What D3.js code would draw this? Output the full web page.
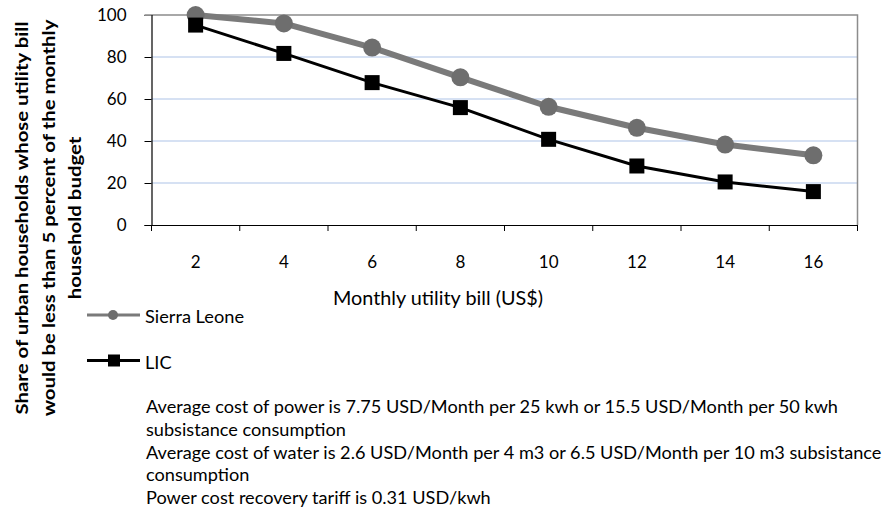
<!DOCTYPE html>
<html>
<head>
<meta charset="utf-8">
<script src="https://cdn.jsdelivr.net/npm/d3@7"></script>
<style>
  html, body { margin: 0; padding: 0; background: #fff; }
  svg { display: block; font-family: Lato, "Open Sans", sans-serif; }
</style>
</head>
<body>
<svg id="chart" width="887" height="510"></svg>
<script>
// Monthly utility bill (US$) categories
const bills = ["2", "4", "6", "8", "10", "12", "14", "16"];
// Share of urban households (%) for whom the bill stays under 5% of budget
const sierraLeone = [100, 96, 84.5, 70.3, 56.3, 46.3, 38.3, 33.2];
const lic = [95.2, 81.7, 67.8, 55.9, 40.8, 28.1, 20.5, 15.9];
const yTicks = [0, 20, 40, 60, 80, 100];
const seriesNames = ["Sierra Leone", "LIC"];
const yTitleLines = [
  "Share of urban households whose utility bill",
  "would be less than 5 percent of the monthly",
  "household budget"
];
const xTitle = "Monthly utility bill (US$)";
const notes = [
  "Average cost of power is 7.75 USD/Month per 25 kwh or 15.5 USD/Month per 50 kwh",
  "subsistance consumption",
  "Average cost of water is 2.6 USD/Month per 4 m3 or 6.5 USD/Month per 10 m3 subsistance",
  "consumption",
  "Power cost recovery tariff is 0.31 USD/kwh"
];

const svg = d3.select("#chart");
const plot = { left: 151.5, right: 857.5, top: 15, bottom: 225 };

// widen a group of labels by a common factor so the first one spans `width`
function stretchGroup(sel, width) {
  const nodes = sel.nodes();
  const k = width / nodes[0].getComputedTextLength();
  nodes.forEach(n => {
    const w = n.getComputedTextLength();
    d3.select(n).attr("textLength", w * k).attr("lengthAdjust", "spacingAndGlyphs");
  });
}

const x = d3.scaleBand().domain(bills).range([plot.left, plot.right]);
const y = d3.scaleLinear().domain([0, 100]).range([plot.bottom, plot.top]);

// horizontal gridlines
svg.append("g").selectAll("line")
  .data(yTicks.filter(t => t > 0 && t < 100))
  .join("line")
  .attr("x1", plot.left).attr("x2", plot.right)
  .attr("y1", d => y(d)).attr("y2", d => y(d))
  .attr("stroke", "#c9d7ef").attr("stroke-width", 1.3);

// plot-area frame (top and right)
svg.append("path")
  .attr("d", `M${plot.left - 7},${y(100)}H${plot.right}V${plot.bottom}`)
  .attr("fill", "none").attr("stroke", "#8c8c8c").attr("stroke-width", 1.5);

// y axis
const yAxis = svg.append("g")
  .attr("transform", `translate(${plot.left},0)`)
  .call(d3.axisLeft(y).tickValues(yTicks).tickSize(7).tickPadding(18));
yAxis.select(".domain").attr("stroke", "#000").attr("stroke-width", 1.2);
yAxis.selectAll(".tick line").attr("stroke", d => d === 100 ? "#8c8c8c" : "#000");
yAxis.selectAll("text").attr("font-size", 17).attr("fill", "#000")
  .attr("font-family", "Lato, sans-serif");

// x axis with ticks between categories
const xAxis = svg.append("g")
  .attr("transform", `translate(0,${plot.bottom})`)
  .call(d3.axisBottom(x).tickSize(0).tickPadding(31));
xAxis.select(".domain").attr("stroke", "#000").attr("stroke-width", 1.2);
xAxis.selectAll("text").attr("font-size", 17).attr("fill", "#000")
  .attr("font-family", "Lato, sans-serif");
const bounds = bills.map(b => x(b)).concat([x.range()[1]]);
xAxis.append("g").selectAll("line").data(bounds).join("line")
  .attr("x1", d => d).attr("x2", d => d).attr("y1", 0).attr("y2", 6)
  .attr("stroke", "#000");

const cx = b => x(b) + x.bandwidth() / 2;
const line = d3.line().x((d, i) => cx(bills[i])).y(d => y(d));

// Sierra Leone series
svg.append("path").datum(sierraLeone)
  .attr("d", line).attr("fill", "none")
  .attr("stroke", "#7a7a7a").attr("stroke-width", 6).attr("stroke-linejoin", "round");
svg.append("g").selectAll("circle").data(sierraLeone).join("circle")
  .attr("cx", (d, i) => cx(bills[i])).attr("cy", d => y(d)).attr("r", 9)
  .attr("fill", "#6e6e6e");

// LIC series
svg.append("path").datum(lic)
  .attr("d", line).attr("fill", "none")
  .attr("stroke", "#000").attr("stroke-width", 3);
svg.append("g").selectAll("rect").data(lic).join("rect")
  .attr("x", (d, i) => cx(bills[i]) - 7.5).attr("y", d => y(d) - 7.5)
  .attr("width", 15).attr("height", 15).attr("fill", "#000");

// x axis title
const xt = svg.append("text")
  .attr("x", 333).attr("y", 305)
  .attr("font-size", 18.5).attr("fill", "#000")
  .text(xTitle);
stretchGroup(xt, 210);

// y axis title, three centred lines
const yt = svg.append("g").selectAll("text").data(yTitleLines).join("text")
  .attr("transform", (d, i) => `translate(${28 + i * 26.5},218) rotate(-90)`)
  .attr("text-anchor", "middle").attr("font-size", 17).attr("font-weight", "bold")
  .attr("fill", "#000")
  .text(d => d);
stretchGroup(yt, 393);

// legend
const legendRows = [
  { name: seriesNames[0], y: 315, color: "#7a7a7a", marker: "circle" },
  { name: seriesNames[1], y: 360.5, color: "#000", marker: "square" }
];
const legend = svg.append("g");
legendRows.forEach(r => {
  legend.append("line").attr("x1", 87).attr("x2", 140).attr("y1", r.y).attr("y2", r.y)
    .attr("stroke", r.color).attr("stroke-width", 3);
  if (r.marker === "circle") {
    legend.append("circle").attr("cx", 113).attr("cy", r.y).attr("r", 5).attr("fill", "#6e6e6e");
  } else {
    legend.append("rect").attr("x", 108).attr("y", r.y - 6).attr("width", 12).attr("height", 12)
      .attr("fill", r.color);
  }
});
const legendText = legend.selectAll("text.lg").data(legendRows).join("text")
  .attr("class", "lg")
  .attr("x", 145).attr("y", d => d.y + 8).attr("font-size", 17.5).attr("fill", "#000")
  .text(d => d.name);
stretchGroup(legendText, 99);

// notes under the chart
const noteText = svg.append("g").selectAll("text").data(notes).join("text")
  .attr("x", 146).attr("y", (d, i) => 413 + i * 22.75)
  .attr("font-size", 17.5).attr("fill", "#000")
  .text(d => d);
stretchGroup(noteText, 692);
</script>
</body>
</html>
